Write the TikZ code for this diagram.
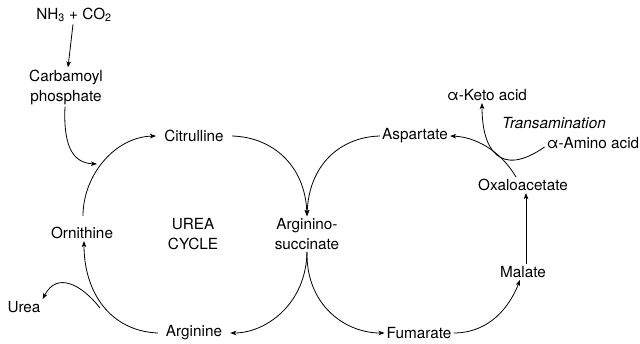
\documentclass[tikz,border=0pt]{standalone}
\usepackage{fontspec}
\setmainfont{TeX Gyre Heros}
\usetikzlibrary{arrows.meta}
\begin{document}
\begin{tikzpicture}[x=1pt,y=-1pt,
  lbl/.style={inner sep=2pt,font=\fontsize{15.3}{20}\selectfont,align=center},
  conn/.style={line width=0.8pt,-{Stealth[length=6pt,width=4.5pt,inset=1.5pt]}},
  plain/.style={line width=0.8pt}]
\useasboundingbox (0,0) rectangle (640,343);
% nodes
\node[lbl] (nh3) at (74,15) {NH\textsubscript{3} + CO\textsubscript{2}};
\node[lbl] (carb) at (66,87) {Carbamoyl\\phosphate};
\node[lbl,inner xsep=8pt] (cit) at (194,136) {Citrulline};
\node[lbl] (asi) at (307,234) {Arginino-\\succinate};
\node[lbl] (orn) at (82,233) {Ornithine};
\node[lbl] (cyc) at (193,234) {UREA\\CYCLE};
\node[lbl,inner xsep=8pt] (arg) at (194,333) {Arginine};
\node[lbl] (urea) at (24,307) {Urea};
\node[lbl] (fum) at (419,333) {Fumarate};
\node[lbl] (mal) at (523,272) {Malate};
\node[lbl] (oxa) at (523,185) {Oxaloacetate};
\node[lbl] (asp) at (415,136) {Aspartate};
\node[lbl] (keto) at (487,95) {α-Keto acid};
\node[lbl,font=\fontsize{15.3}{20}\selectfont\itshape] (trans) at (554,123) {Transamination};
\node[lbl] (amino) at (593,143) {α-Amino acid};
\coordinate (join) at (97,164);
\coordinate (ub) at (100,308);
% connectors
\draw[conn] ([xshift=-1pt]nh3.south) -- ([xshift=2pt]carb.north);
\draw[conn] ([xshift=-1pt]carb.south) .. controls (63,150) and (75,163) .. (join);
\draw[conn] ([xshift=1pt,yshift=9pt]orn.north) .. controls (83,175) and (115,137) .. (cit.west);
\draw[conn] (cit.east) .. controls (272,137) and (305,165) .. (asi.north);
\draw[conn] (asp.west) .. controls (340,137) and (309,165) .. (asi.north);
\draw[conn] (asi.south) .. controls (306,305) and (265,333) .. (arg.east);
\draw[conn] (asi.south) .. controls (306,305) and (345,333) .. (fum.west);
\draw[conn] (arg.west) .. controls (110,331) and (84,292) .. ([xshift=2pt]orn.south);
\draw[conn] (ub) .. controls (82,285) and (57,271) .. (urea.north east);
\draw[conn] (fum.east) .. controls (490,333) and (510,306) .. ([xshift=-3pt]mal.south);
\draw[conn] ([xshift=3pt]mal.north) -- ([xshift=3pt]oxa.south);
\draw[conn] ([xshift=-7pt]oxa.north) .. controls (500,150) and (475,137) .. (asp.east);
\draw[conn] ([yshift=-4pt]amino.west) .. controls (500,178) and (482,150) .. ([xshift=-5pt]keto.south);
\end{tikzpicture}
\end{document}
